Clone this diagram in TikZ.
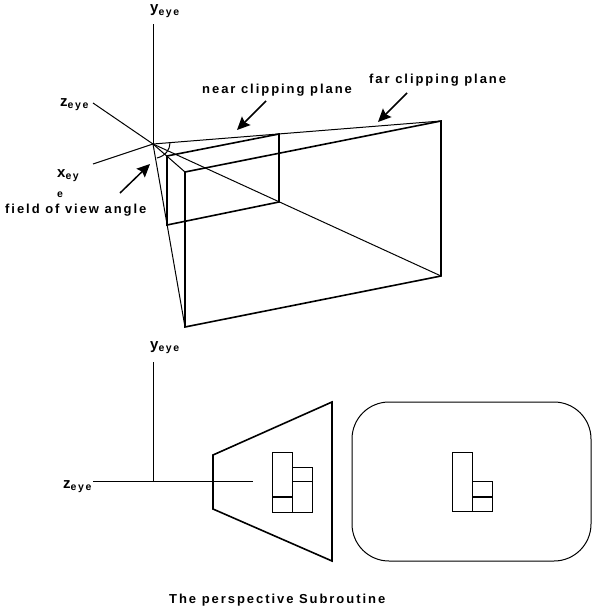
\documentclass[tikz,border=0pt]{standalone}
\usepackage{fontspec}
\setmainfont[LetterSpace=15]{Liberation Sans}
\usetikzlibrary{positioning,arrows.meta}
\newcommand{\eyelabel}[1]{{\fontsize{15}{15}\selectfont #1}\raisebox{-2.5pt}{\fontsize{10.5}{11}\selectfont eye}}

\tikzset{
	thinline/.style={line width=1pt},
	thickline/.style={line width=1.6pt},
	textlab/.style={inner sep=0pt, anchor=base west, font=\bfseries\fontsize{13}{13}\selectfont},
	pointer/.style={-{Stealth[length=13pt,width=12pt,inset=2pt]}, line width=1.5pt},
}

\begin{document}
\begin{tikzpicture}[x=1pt, y=-1pt]
			\useasboundingbox (0,0) rectangle (595,610);

			% top view
			\coordinate (eye) at (153,144);
			\coordinate (ytop) at (153,24);
			\coordinate (zend) at (93,103);
			\coordinate (xend) at (93,164);
			\coordinate (ntl) at (167,156);
			\coordinate (ntr) at (279,134);
			\coordinate (nbr) at (279,202);
			\coordinate (nbl) at (167,225);
			\coordinate (ftl) at (185,172);
			\coordinate (ftr) at (441,121);
			\coordinate (fbr) at (441,276);
			\coordinate (fbl) at (185,327);

			\draw[thinline] (eye) -- (ytop);
			\draw[thinline] (zend) -- (eye) -- (fbr);
			\draw[thinline] (xend) -- (eye);
			\draw[thinline] (eye) -- (ftr);
			\draw[thinline] (eye) -- (fbl);
			\draw[thinline] (eye) -- (ftl);
			\draw[thinline] (170,143) .. controls (170,150) and (165,156) .. (157,158);
			\draw[thickline] (ntl) -- (ntr) -- (nbr) -- (nbl) -- cycle;
			\draw[thickline] (ftl) -- (ftr) -- (fbr) -- (fbl) -- cycle;

			\node[textlab] (ylab) at (150,13) {\eyelabel{y}};
			\node[textlab] (zlab) at (60,106) {\eyelabel{z}};
			\node[textlab] (xlab) at (57,177) {{\fontsize{15}{15}\selectfont x}\raisebox{-2.5pt}{\fontsize{10.5}{11}\selectfont ey}};
			\node[textlab] (xwrap) at (57,197) {\fontsize{10.5}{11}\selectfont e};
			\node[textlab] (fovlab) at (5,213) {field of view angle};
			\node[textlab] (nearlab) at (202,93) {near clipping plane};
			\node[textlab] (farlab) at (369,83) {far clipping plane};

			\coordinate (fovs) at (120,193);
			\coordinate (fovt) at (150,164);
			\coordinate (nears) at (266,101);
			\coordinate (neart) at (237,130);
			\coordinate (fars) at (407,93);
			\coordinate (fart) at (378,122);
			\draw[pointer] (fovs) -- (fovt);
			\draw[pointer] (nears) -- (neart);
			\draw[pointer] (fars) -- (fart);

			% side view
			\coordinate (org) at (153,481);
			\coordinate (ytip) at (153,362);
			\coordinate (zleft) at (93,481);
			\coordinate (zright) at (253,481);
			\coordinate (ta) at (213,455);
			\coordinate (tb) at (332,402);
			\coordinate (tc) at (332,561);
			\coordinate (td) at (213,509);

			\draw[thinline] (org) -- (ytip);
			\draw[thinline] (zleft) -- (zright);
			\draw[thickline] (ta) -- (tb) -- (tc) -- (td) -- cycle;

			\node[textlab] (ylabb) at (150,349) {\eyelabel{y}};
			\node[textlab] (zlabb) at (63,488) {\eyelabel{z}};

			\draw[thinline] (272,452) rectangle (292,512);
			\draw[thinline] (292,467) rectangle (312,512);
			\draw[thinline] (292,481) -- (312,481);
			\draw[thickline] (272,497) -- (292,497);

			% window
			\draw[thinline, rounded corners=37pt] (352,402) rectangle (591,561);
			\draw[thinline] (452,452) rectangle (472,511);
			\draw[thinline] (472,481) rectangle (492,511);
			\draw[thickline] (472,497) -- (492,497);

			\node[textlab] (title) at (169,603) {The perspective Subroutine};
		\end{tikzpicture}
\end{document}
